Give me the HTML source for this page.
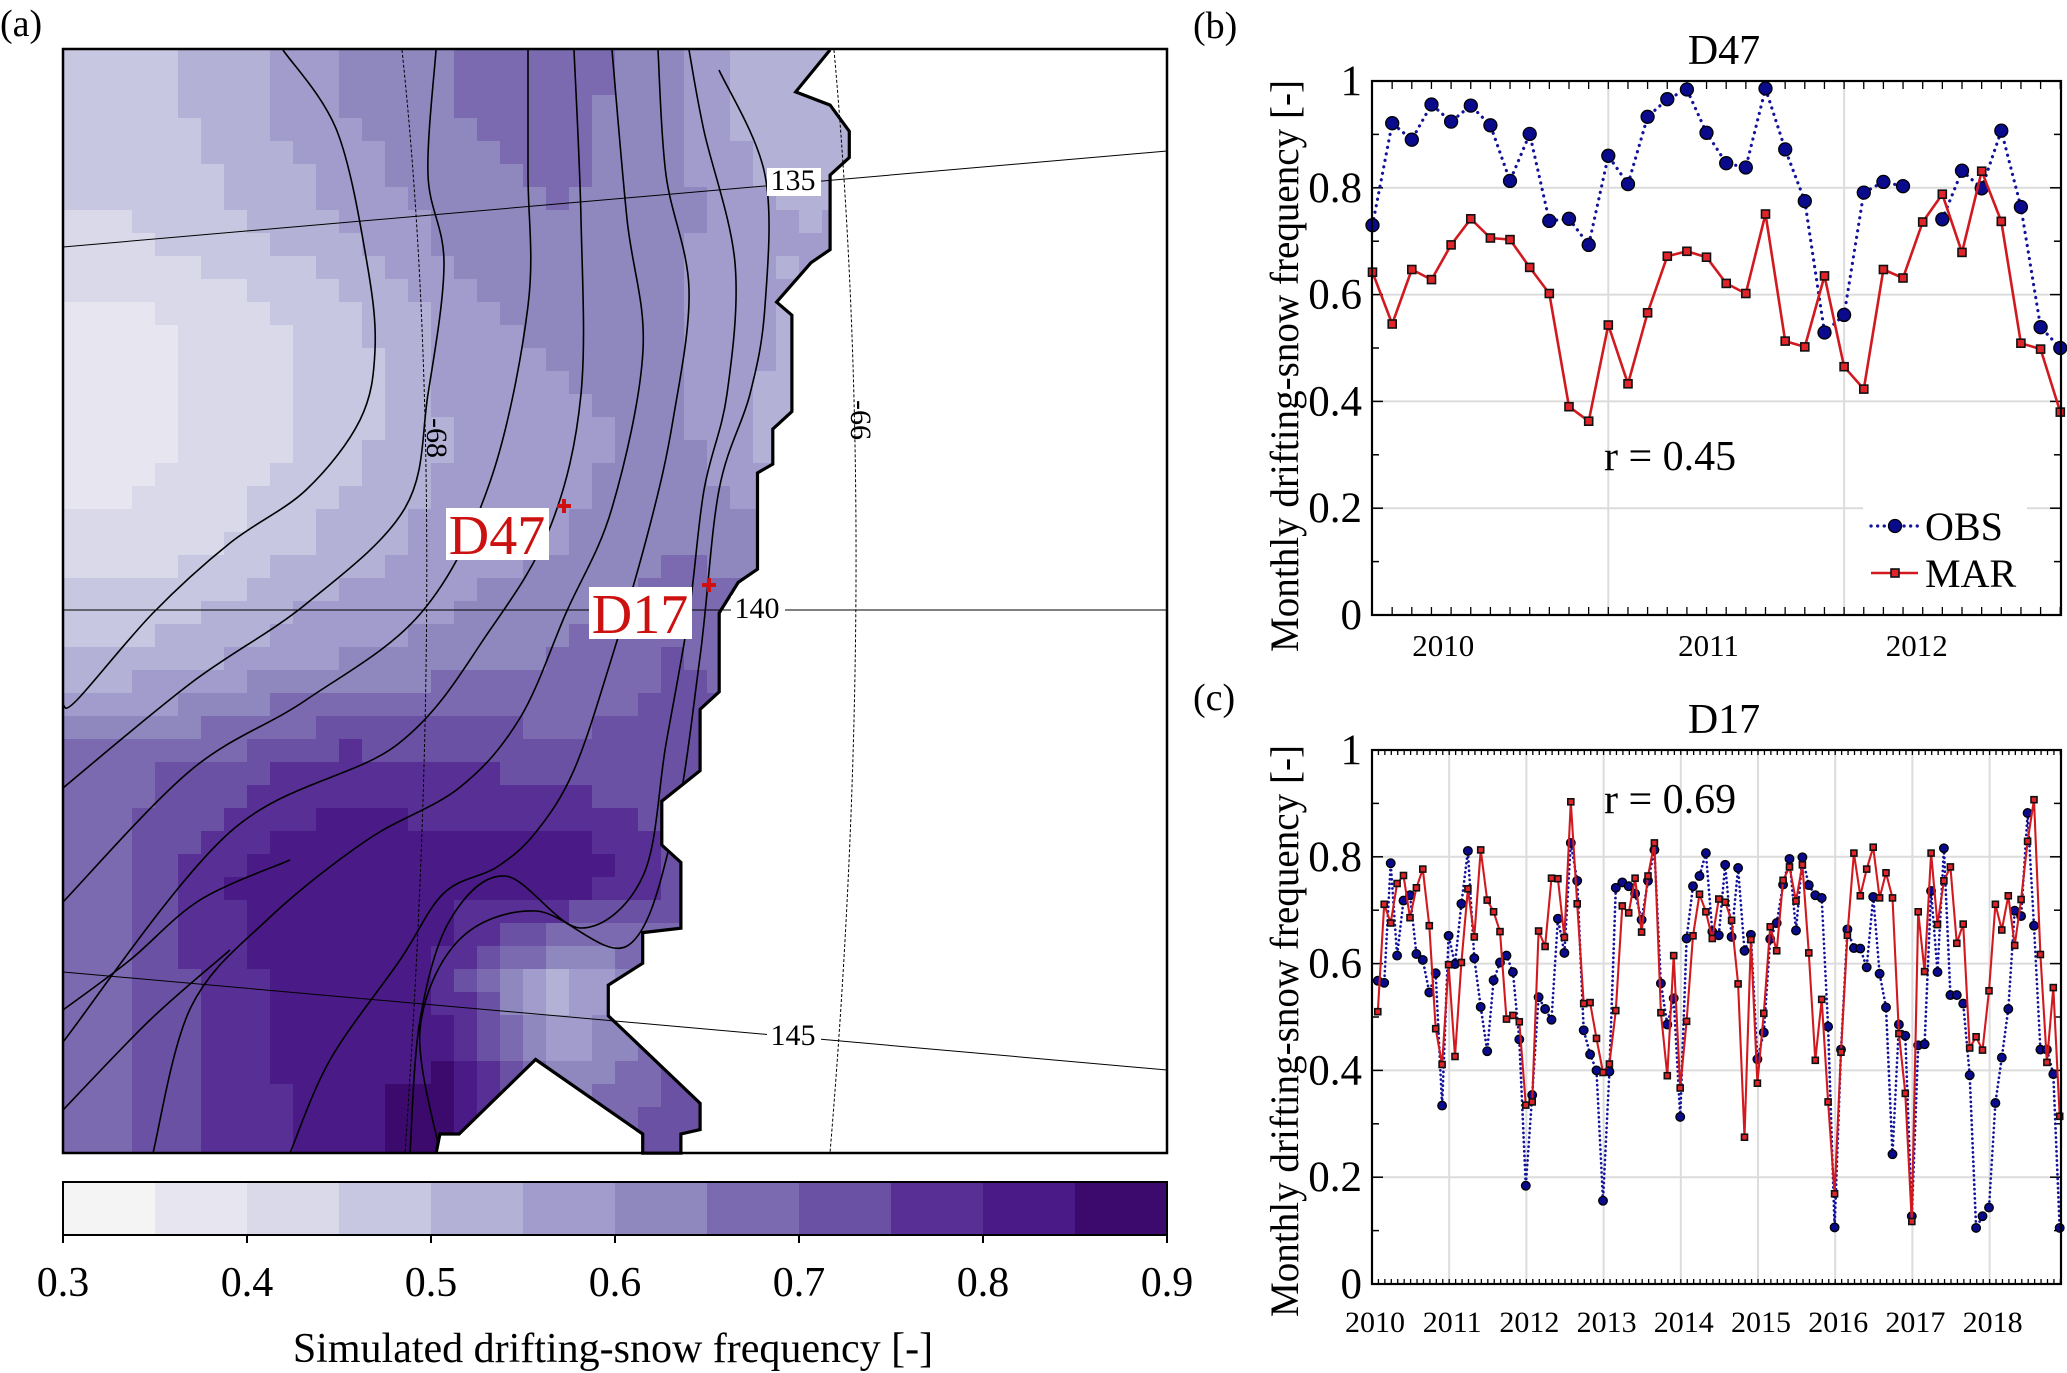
<!DOCTYPE html>
<html><head><meta charset="utf-8"><style>
html,body{margin:0;padding:0;background:#fff;}
svg{display:block;}
text{font-family:"Liberation Serif","DejaVu Serif","Noto Serif CJK SC",serif;}
</style></head><body>
<svg id="fig" width="2067" height="1373" viewBox="0 0 2067 1373" xmlns="http://www.w3.org/2000/svg"></svg>
<script>
// ---------- Panel (b) data: D47 ----------
const bObs = [0.730,0.921,0.890,0.956,0.924,0.954,0.917,0.813,0.901,0.738,0.742,0.693,0.860,0.807,0.933,0.966,0.984,0.903,0.846,0.838,0.986,0.872,0.775,0.529,0.562,0.791,0.811,0.803,null,0.741,0.832,0.799,0.907,0.764,0.539,0.500];
const bMar = [0.642,0.545,0.647,0.628,0.693,0.742,0.706,0.703,0.651,0.602,0.390,0.363,0.543,0.433,0.566,0.672,0.681,0.670,0.621,0.602,0.751,0.513,0.502,0.635,0.465,0.423,0.647,0.631,0.736,0.788,0.679,0.831,0.737,0.509,0.498,0.380];
const bYearLabels = ['2010','2011','2012'];
const bYearLabelMonths = [3.6,17.1,27.7];
const bGridMonths = [12,24];
const yTicks = [0,0.2,0.4,0.6,0.8,1];
const yTickLabels = ['0','0.2','0.4','0.6','0.8','1'];
// ---------- Panel (c) data: D17 ----------
const cObs = [0.568,0.564,0.788,0.615,0.718,0.728,0.618,0.607,0.546,0.582,0.334,0.652,0.599,0.712,0.811,0.610,0.519,0.436,0.569,0.602,0.615,0.584,0.458,0.184,0.354,0.537,0.515,0.495,0.684,0.620,0.826,0.755,0.475,0.430,0.400,0.156,
0.398,0.742,0.752,0.745,0.731,0.682,0.755,0.813,0.563,0.486,0.535,0.313,0.647,0.745,0.764,0.807,0.660,0.653,0.785,0.650,0.779,0.624,0.654,0.421,0.471,0.646,0.676,0.748,0.796,0.662,0.799,0.747,0.728,0.723,0.482,0.106,
0.439,0.664,0.629,0.628,0.593,0.725,0.581,0.518,0.243,0.486,0.465,0.127,0.447,0.449,0.736,0.584,0.816,0.541,0.541,0.525,0.391,0.105,0.127,0.143,0.339,0.424,0.515,0.699,0.689,0.882,0.671,0.439,0.439,0.393,0.105];
const cMar = [0.510,0.711,0.676,0.750,0.765,0.686,0.742,0.777,0.671,0.478,0.411,0.598,0.426,0.602,0.740,0.650,0.813,0.719,0.697,0.660,0.496,0.503,0.491,0.335,0.341,0.661,0.632,0.760,0.759,0.649,0.903,0.712,0.525,0.527,0.460,0.396,
0.412,0.512,0.708,0.695,0.760,0.659,0.764,0.826,0.508,0.390,0.615,0.367,0.492,0.652,0.730,0.697,0.647,0.721,0.715,0.681,0.562,0.275,0.645,0.376,0.507,0.669,0.624,0.756,0.781,0.717,0.785,0.620,0.419,0.533,0.341,0.169,
0.434,0.653,0.807,0.727,0.777,0.818,0.723,0.770,0.723,0.469,0.357,0.117,0.697,0.585,0.807,0.673,0.755,0.781,0.638,0.674,0.442,0.463,0.438,0.549,0.711,0.663,0.727,0.634,0.720,0.829,0.907,0.617,0.415,0.555,0.314];
const cYearLabels = ['2010','2011','2012','2013','2014','2015','2016','2017','2018'];
// ---------- Colorbar ----------
const cbColors = ['#f4f4f4','#e6e5f0','#d9d9ea','#c8c7e1','#b3b1d5','#a19ccb','#8e88bf','#7b6aaf','#6a51a3','#582f94','#4a1a86','#3b0a6c'];
const cbTicks = [0.3,0.4,0.5,0.6,0.7,0.8,0.9];
const cbTickLabels = ['0.3','0.4','0.5','0.6','0.7','0.8','0.9'];
// map field sampled on a 10x10 grid (rows: north->south, cols: west->east)
const fieldGrid = [
[.47,.52,.60,.65,.67,.62,.50,.50,.50,.50],
[.45,.50,.55,.62,.65,.62,.55,.55,.55,.55],
[.38,.42,.47,.57,.62,.60,.55,.55,.55,.55],
[.37,.42,.47,.55,.58,.62,.52,.52,.52,.52],
[.42,.45,.52,.57,.60,.65,.62,.62,.62,.62],
[.50,.55,.60,.62,.65,.70,.68,.68,.68,.68],
[.68,.72,.78,.76,.72,.72,.72,.72,.72,.72],
[.70,.80,.85,.82,.86,.75,.72,.72,.72,.72],
[.68,.78,.85,.78,.52,.65,.70,.70,.70,.70],
[.68,.78,.82,.88,.62,.72,.72,.72,.72,.72]];

const NS='http://www.w3.org/2000/svg';
const svg=document.getElementById('fig');
const FF='"Liberation Serif", "DejaVu Serif", serif';
function mk(tag,attrs,parent){const e=document.createElementNS(NS,tag);for(const k in attrs)e.setAttribute(k,attrs[k]);(parent||svg).appendChild(e);return e;}
function txt(s,attrs,parent){const e=mk('text',attrs,parent);e.style.fontFamily=FF;e.textContent=s;return e;}

// ================= PANEL A: MAP =================
const MX0=63,MY0=49,MS=1104;
const gA=mk('g',{});


function field(u,w){
 const gx=Math.max(0,Math.min(8.999,u*10-0.5)),gy=Math.max(0,Math.min(8.999,w*10-0.5));
 const i=Math.floor(gx),j=Math.floor(gy),fx=gx-i,fy=gy-j;
 const a=fieldGrid[j][i],b=fieldGrid[j][i+1],c=fieldGrid[j+1][i],d=fieldGrid[j+1][i+1];
 return a*(1-fx)*(1-fy)+b*fx*(1-fy)+c*(1-fx)*fy+d*fx*fy;
}
const NC=48,CS=MS/NC;
const cells=mk('g',{},gA);


for(let j=0;j<NC;j++)for(let i=0;i<NC;i++){
  const v=field((i+0.5)/NC,(j+0.5)/NC);
  let b=Math.floor((v-0.3)/0.05);b=Math.max(0,Math.min(11,b));
  const r=mk('rect',{x:(MX0+i*CS).toFixed(2),y:(MY0+j*CS).toFixed(2),width:(CS+0.6).toFixed(2),height:(CS+0.6).toFixed(2),fill:cbColors[b]},cells);
  
  
}
// contour lines
const contours=[
[[283,50],[337,131],[367,263],[375,350],[360,420],[306,490],[230,543],[153,613],[77,700],[63,705]],
[[436,50],[428,175],[444,263],[428,394],[405,508],[306,604],[191,683],[63,788]],
[[528,50],[528,175],[528,306],[490,482],[421,613],[306,700],[191,770],[63,902]],
[[574,50],[581,219],[581,394],[551,525],[490,630],[398,744],[230,832],[63,1042]],
[[612,50],[627,219],[643,350],[612,508],[566,613],[520,718],[459,788],[367,840],[268,919],[191,1007],[153,1153]],
[[658,50],[666,175],[689,289],[673,420],[650,525],[612,657],[574,770],[536,832],[497,867],[444,893],[400,960],[330,1060],[290,1153]],
[[689,50],[704,131],[735,263],[727,394],[704,490],[689,613],[666,744],[643,876],[581,928],[505,876],[450,920],[420,1020],[410,1153]],
[[719,70],[765,175],[765,306],[750,394],[719,490],[700,657],[673,832],[627,946],[536,911],[459,940],[420,1030],[440,1153]],
[[63,1010],[130,960],[200,900],[290,860]],
[[63,1110],[150,1020],[230,950]]];
function smooth(p){let d='M'+p[0][0]+','+p[0][1];for(let i=0;i<p.length-1;i++){const p0=p[i-1]||p[i],p1=p[i],p2=p[i+1],p3=p[i+2]||p2;d+=' C'+(p1[0]+(p2[0]-p0[0])/6).toFixed(1)+','+(p1[1]+(p2[1]-p0[1])/6).toFixed(1)+' '+(p2[0]-(p3[0]-p1[0])/6).toFixed(1)+','+(p2[1]-(p3[1]-p1[1])/6).toFixed(1)+' '+p2[0]+','+p2[1];}return d;}
for(const c of contours){const p=mk('path',{d:smooth(c),fill:'none',stroke:'#000','stroke-width':1.6},gA);

}
// ocean
const coastZ=[[1085,57],[1040,105],[1085,120],[1110,150],[1110,180],[1085,200],[1085,285],[1060,300],[1015,345],[1035,360],[1035,470],[1010,490],[1010,530],[990,540],[990,650],[965,665],[940,700],[940,790],[915,810],[915,880],[865,915],[865,965],[890,985],[890,1060],[840,1065],[840,1100],[795,1125],[795,1160],[915,1260],[915,1290],[890,1295],[890,1317],[840,1317],[840,1295],[700,1210],[600,1295],[575,1295],[570,1317]];
const coast=coastZ.map(p=>[p[0]/1.307,p[1]/1.142]);
const oceanPts=coast.concat([[1167,1153],[1167,49]]).map(p=>p[0].toFixed(1)+','+p[1].toFixed(1)).join(' ');
const ocean=mk('polygon',{points:oceanPts,fill:'#fff'},gA);


const coastL=mk('polyline',{points:coast.map(p=>p[0].toFixed(1)+','+p[1].toFixed(1)).join(' '),fill:'none',stroke:'#000','stroke-width':3.2,'stroke-linejoin':'miter'},gA);


// graticule
const g135=mk('line',{x1:63,y1:247,x2:1167,y2:151,stroke:'#000','stroke-width':1},gA);


const g140=mk('line',{x1:63,y1:610,x2:1167,y2:610,stroke:'#000','stroke-width':1},gA);


const g145=mk('line',{x1:63,y1:972,x2:1167,y2:1070,stroke:'#000','stroke-width':1},gA);


const l68=mk('path',{d:'M402,50 Q450,500 405,1153',fill:'none',stroke:'#000','stroke-width':1,'stroke-dasharray':'3,2'},gA);


const l66=mk('path',{d:'M834,50 Q880,560 830,1153',fill:'none',stroke:'#000','stroke-width':1,'stroke-dasharray':'3,2'},gA);


const gl=[['135',793,190],['140',757,618],['145',793,1045]];
for(const a of gl){const r=mk('rect',{x:a[1]-26,y:a[2]-22,width:54,height:28,fill:'#fff'},gA);


const t=txt(a[0],{x:a[1],y:a[2],'font-size':30,'text-anchor':'middle'},gA);

}
const t68=txt('-68',{x:0,y:0,'font-size':30,'text-anchor':'middle',transform:'translate(427,438) rotate(90)'},gA);


const t66=txt('-66',{x:0,y:0,'font-size':30,'text-anchor':'middle',transform:'translate(851,420) rotate(90)'},gA);


// stations
const stations=[['D47',564,506,446,508],['D17',709,585,589,587]];
for(const s of stations){
 const m=mk('path',{d:`M${s[1]-7},${s[2]} h14 M${s[1]},${s[2]-7} v14`,stroke:'#d01010','stroke-width':4},gA);
 
 
 const r=mk('rect',{x:s[3],y:s[4],width:103,height:52,fill:'#fff'},gA);
 
 
 const t=txt(s[0],{x:s[3]+51,y:s[4]+46,'font-size':56,fill:'#cc1111','text-anchor':'middle'},gA);
 
 
}
const mapBox=mk('rect',{x:MX0,y:MY0,width:MS,height:MS,fill:'none',stroke:'#000','stroke-width':2.5},gA);


const la=txt('(a)',{x:0,y:36,'font-size':38},gA);


// colorbar
const gCB=mk('g',{});


const cbX=v=>63+(v-0.3)/0.6*1104;
for(let i=0;i<cbColors.length;i++){const r=mk('rect',{x:cbX(0.3+i*0.05),y:1182,width:cbX(0.35)-cbX(0.3)+0.5,height:53,fill:cbColors[i]},gCB);

}
const cbF=mk('rect',{x:63,y:1182,width:1104,height:53,fill:'none',stroke:'#000','stroke-width':2},gCB);


for(let i=0;i<cbTicks.length;i++){
 const x=cbX(cbTicks[i]);
 const tk=mk('line',{x1:x,y1:1235,x2:x,y2:1243,stroke:'#000','stroke-width':2},gCB);
 
 
 const t=txt(cbTickLabels[i],{x:x,y:1296,'font-size':42,'text-anchor':'middle'},gCB);
 
 
}
const cbT=txt('Simulated drifting-snow frequency [-]',{x:613,y:1362,'font-size':42,'text-anchor':'middle'},gCB);



// ================= TIME SERIES PANELS =================
function panel(o){
 const g=mk('g',{});
 
 
 const L=o.x0,R=o.x1,T=o.y0,B=o.y1;
 const ys=v=>B-v*(B-T);
 for(const v of [0.2,0.4,0.6,0.8]){const gl=mk('line',{x1:L,y1:ys(v),x2:R,y2:ys(v),stroke:'#dcdcdc','stroke-width':2},g);
 
 }
 for(const x of o.gridX){const gl=mk('line',{x1:x,y1:T,x2:x,y2:B,stroke:'#dcdcdc','stroke-width':2},g);
 
 }
 for(let k=1;k<10;k++){const v=k/10,len=(k%2===0)?11:7,y=ys(v);
  const t1=mk('line',{x1:L,y1:y,x2:L+len,y2:y,stroke:'#000','stroke-width':1.5},g);
  
  
  const t2=mk('line',{x1:R,y1:y,x2:R-len,y2:y,stroke:'#000','stroke-width':1.5},g);
  
  }
 for(const x of o.minorX){
  const t1=mk('line',{x1:x,y1:B,x2:x,y2:B-o.tickLen,stroke:'#000','stroke-width':1.3},g);
  
  
  const t2=mk('line',{x1:x,y1:T,x2:x,y2:T+o.tickLen,stroke:'#000','stroke-width':1.3},g);
  
  }
 for(let i=0;i<yTicks.length;i++){const t=txt(yTickLabels[i],{x:L-10,y:ys(yTicks[i])+14,'font-size':43,'text-anchor':'end'},g);
 
 }
 for(let i=0;i<o.xLabels.length;i++){const t=txt(o.xLabels[i],{x:o.xLabelPos[i],y:o.xLabelY,'font-size':o.xFont,'text-anchor':'middle'},g);
 
 }
 let d='',pen=false;
 for(let i=0;i<o.obs.length;i++){
  if(o.obs[i]===null){pen=false;continue;}
  d+=(pen?'L':'M')+o.xs(i).toFixed(1)+','+ys(o.obs[i]).toFixed(1)+' ';
  pen=true;
 }
 const lo=mk('path',{d:d.trim(),fill:'none',stroke:'#12129a','stroke-width':o.lw+0.6,'stroke-dasharray':o.dash,'stroke-linecap':'round'},g);
 
 
 for(let i=0;i<o.obs.length;i++){if(o.obs[i]===null)continue;const c=mk('circle',{cx:o.xs(i).toFixed(1),cy:ys(o.obs[i]).toFixed(1),r:o.cr,fill:'#0a0a8c',stroke:'#000','stroke-width':1.3},g);
 
 }
 const lm=mk('polyline',{points:o.mar.map((v,i)=>o.xs(i).toFixed(1)+','+ys(v).toFixed(1)).join(' '),fill:'none',stroke:'#d11a1f','stroke-width':o.lw,'stroke-linejoin':'round'},g);
 
 
 for(let i=0;i<o.mar.length;i++){const s=mk('rect',{x:(o.xs(i)-o.sq/2).toFixed(1),y:(ys(o.mar[i])-o.sq/2).toFixed(1),width:o.sq,height:o.sq,fill:'#e0242a',stroke:'#111','stroke-width':1.6},g);
 
 }
 const fr=mk('rect',{x:L,y:T,width:R-L,height:B-T,fill:'none',stroke:'#000','stroke-width':2.2},g);
 
 
 const tt=txt(o.title,{x:1724,y:o.titleY,'font-size':42,'text-anchor':'middle'},g);
 
 
 const rt=txt(o.rtext,{x:1604,y:o.rY,'font-size':42},g);
 
 
 const yt=txt('Monthly drifting-snow frequency [-]',{x:0,y:0,'font-size':40,'text-anchor':'middle',textLength:572,lengthAdjust:'spacingAndGlyphs',transform:`translate(1298,${o.ytY}) rotate(-90)`},g);
 
 
 const pl=txt(o.plabel,{x:1193,y:o.plabelY,'font-size':38},g);
 
 
 return {g,ys};
}
// Panel b
const bx=m=>1372.5+m*19.65;
const bMinor=[];for(let m=1;m<36;m++)bMinor.push(bx(m));
panel({name:'panel-b-d47',x0:1372,x1:2061,y0:81,y1:615,xs:bx,obs:bObs,mar:bMar,gridX:bGridMonths.map(bx),minorX:bMinor,tickLen:8,
 xLabels:bYearLabels,xLabelPos:bYearLabelMonths.map(bx),xLabelY:656,xFont:31,cr:6.5,sq:8,lw:2.6,dash:'0.1,6.5',title:'D47',titleY:64,rtext:'r = 0.45',rY:470,plabel:'(b)',plabelY:38,ytY:366});
// legend
const lg=mk('g',{});


const lbg=mk('rect',{x:1863,y:500,width:164,height:95,fill:'#fff'},lg);


const lol=mk('line',{x1:1871,y1:526,x2:1918,y2:526,stroke:'#12129a','stroke-width':3.2,'stroke-dasharray':'0.1,6.5','stroke-linecap':'round'},lg);


const loc=mk('circle',{cx:1895,cy:526,r:6.5,fill:'#0a0a8c',stroke:'#000','stroke-width':1.3},lg);


const lot=txt('OBS',{x:1925,y:540,'font-size':40},lg);


const lml=mk('line',{x1:1871,y1:573,x2:1918,y2:573,stroke:'#d11a1f','stroke-width':2.6},lg);


const lms=mk('rect',{x:1891,y:569,width:8,height:8,fill:'#e0242a',stroke:'#111','stroke-width':1.6},lg);


const lmt=txt('MAR',{x:1925,y:587,'font-size':40},lg);


// Panel c
const cx=t=>1372+t*77.2;
const cxi=i=>cx((i+0.9)/12);
const cMinor=[];for(let m=1;m<108;m++)cMinor.push(cx(m/12));
const cGrid=[];for(let y=1;y<=8;y++)cGrid.push(cx(y));
panel({name:'panel-c-d17',x0:1372,x1:2061,y0:750,y1:1284,xs:cxi,obs:cObs,mar:cMar,gridX:cGrid,minorX:cMinor,tickLen:5,
 xLabels:cYearLabels,xLabelPos:cYearLabels.map((s,i)=>cx(i)+3),xLabelY:1332,xFont:30,cr:4.3,sq:6,lw:2.1,dash:'0.1,4.5',title:'D17',titleY:733,rtext:'r = 0.69',rY:813,plabel:'(c)',plabelY:710,ytY:1031});
</script>
</body></html>
